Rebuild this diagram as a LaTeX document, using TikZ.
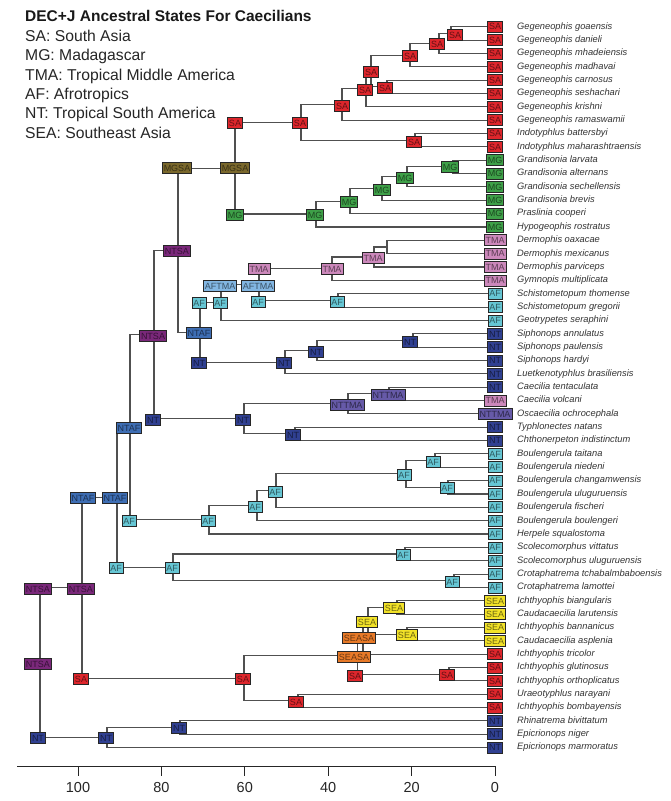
\documentclass[tikz,border=0pt]{standalone}
\usepackage{fontspec}
\setmainfont{Liberation Sans}
\definecolor{cSA}{RGB}{222,38,44}
\definecolor{cMG}{RGB}{62,160,72}
\definecolor{cTMA}{RGB}{204,136,187}
\definecolor{cAF}{RGB}{102,198,212}
\definecolor{cNT}{RGB}{48,64,145}
\definecolor{cSEA}{RGB}{242,226,40}
\definecolor{cMGSA}{RGB}{122,104,44}
\definecolor{cNTSA}{RGB}{122,40,122}
\definecolor{cNTAF}{RGB}{62,110,180}
\definecolor{cAFTMA}{RGB}{130,182,226}
\definecolor{cNTTMA}{RGB}{102,90,168}
\definecolor{cSEASA}{RGB}{232,122,40}
\definecolor{edgec}{RGB}{80,80,80}
\tikzset{
  edge/.style={draw=edgec, line width=1.1pt},
  box/.style={draw=black!85, line width=0.7pt, inner xsep=1.4pt, inner ysep=0pt,
    minimum height=11pt, text height=6.5pt, text depth=0pt, font=\fontsize{9}{9}\selectfont},
  state/.style={box, fill=c#1, text=c#1!45!black},
  tiplab/.style={anchor=west, inner sep=0pt, text height=6.7pt, text depth=2pt,
    font=\fontsize{9.3}{9.3}\selectfont\itshape, text=black!80},
  legend/.style={anchor=base west, inner sep=0pt, font=\fontsize{15.7}{15.7}\selectfont, text=black!85},
  axlab/.style={anchor=base, inner sep=0pt, font=\fontsize{14.5}{14.5}\selectfont, text=black!85},
  axisline/.style={draw=black!85, line width=1pt}
}
\newcommand\stbox[4]{\node[state=#2] (#1) at (#3,#4) {#2};}
\begin{document}
\begin{tikzpicture}[x=1pt,y=-1pt]
\fill[white] (0,0) rectangle (670,801);
\useasboundingbox (0,0) rectangle (670,801);
\def\tiplist{Gegeneophis goaensis/SA, Gegeneophis danieli/SA, Gegeneophis mhadeiensis/SA, Gegeneophis madhavai/SA, Gegeneophis carnosus/SA, Gegeneophis seshachari/SA, Gegeneophis krishni/SA, Gegeneophis ramaswamii/SA, Indotyphlus battersbyi/SA, Indotyphlus maharashtraensis/SA, Grandisonia larvata/MG, Grandisonia alternans/MG, Grandisonia sechellensis/MG, Grandisonia brevis/MG, Praslinia cooperi/MG, Hypogeophis rostratus/MG, Dermophis oaxacae/TMA, Dermophis mexicanus/TMA, Dermophis parviceps/TMA, Gymnopis multiplicata/TMA, Schistometopum thomense/AF, Schistometopum gregorii/AF, Geotrypetes seraphini/AF, Siphonops annulatus/NT, Siphonops paulensis/NT, Siphonops hardyi/NT, Luetkenotyphlus brasiliensis/NT, Caecilia tentaculata/NT, Caecilia volcani/TMA, Oscaecilia ochrocephala/NTTMA, Typhlonectes natans/NT, Chthonerpeton indistinctum/NT, Boulengerula taitana/AF, Boulengerula niedeni/AF, Boulengerula changamwensis/AF, Boulengerula uluguruensis/AF, Boulengerula fischeri/AF, Boulengerula boulengeri/AF, Herpele squalostoma/AF, Scolecomorphus vittatus/AF, Scolecomorphus uluguruensis/AF, Crotaphatrema tchabalmbaboensis/AF, Crotaphatrema lamottei/AF, Ichthyophis biangularis/SEA, Caudacaecilia larutensis/SEA, Ichthyophis bannanicus/SEA, Caudacaecilia asplenia/SEA, Ichthyophis tricolor/SA, Ichthyophis glutinosus/SA, Ichthyophis orthoplicatus/SA, Uraeotyphlus narayani/SA, Ichthyophis bombayensis/SA, Rhinatrema bivittatum/NT, Epicrionops niger/NT, Epicrionops marmoratus/NT}
% tip coordinates
\foreach \nm/\st [count=\i] in \tiplist {\coordinate (t\i) at (495,{26.7+13.35*(\i-1)});}
% internal node coordinates
\coordinate (nA) at (451,33.38);
\coordinate (nB) at (439,43.39);
\coordinate (nC) at (410,55.07);
\coordinate (nE) at (387,86.78);
\coordinate (nD) at (371,70.92);
\coordinate (nF) at (366,88.86);
\coordinate (nG) at (342,104.5);
\coordinate (nH) at (415,140.18);
\coordinate (nI) at (301,122.34);
\coordinate (nM1) at (453,166.88);
\coordinate (nM2) at (407,176.89);
\coordinate (nM3) at (382,188.57);
\coordinate (nM4) at (350,201.09);
\coordinate (nM5) at (316,214.02);
\coordinate (nMS) at (235,168.18);
\coordinate (nT1) at (387,246.98);
\coordinate (nT2) at (374,256.99);
\coordinate (nT3) at (332,268.67);
\coordinate (nS1) at (338,300.38);
\coordinate (nAT) at (259,284.52);
\coordinate (nAF1) at (221,302.46);
\coordinate (nSi1) at (413,340.43);
\coordinate (nSi2) at (317,350.44);
\coordinate (nSi3) at (285,362.12);
\coordinate (nNA) at (200,332.29);
\coordinate (nNS1) at (178,250.24);
\coordinate (nC1) at (389,393.83);
\coordinate (nC2) at (348,403.84);
\coordinate (nTy) at (295,433.88);
\coordinate (nN244) at (244,418.86);
\coordinate (nNS2) at (154,334.55);
\coordinate (nB1) at (435,460.58);
\coordinate (nB2) at (448,487.28);
\coordinate (nB3) at (406,473.93);
\coordinate (nB4) at (276,490.6);
\coordinate (nB5) at (257,505.6);
\coordinate (nB6) at (209,519.8);
\coordinate (nNA2) at (130,427.2);
\coordinate (nSc) at (405,554.03);
\coordinate (nCr) at (454,580.73);
\coordinate (nSC) at (173,567.38);
\coordinate (nNA3) at (117,497.3);
\coordinate (nSE1) at (397,607.43);
\coordinate (nSE2) at (407,634.13);
\coordinate (nSE3) at (368,620.78);
\coordinate (nSE4) at (363,637.46);
\coordinate (nIg) at (449,674.18);
\coordinate (nSE5) at (357.5,655.82);
\coordinate (nUr) at (298,700.88);
\coordinate (nSA2) at (244,678.35);
\coordinate (nNS3) at (82,587.8);
\coordinate (nRh) at (180,727.58);
\coordinate (nEp) at (107,737.59);
\coordinate (root) at (40,662.7);
% branches
\foreach \p/\c in {nA/t1, nA/t2, nB/nA, nB/t3, nC/nB, nC/t4, nE/t5, nE/t6, nD/nC, nD/nE, nF/nD, nF/t7, nG/nF, nG/t8, nH/t9, nH/t10, nI/nG, nI/nH,
  nM1/t11, nM1/t12, nM2/nM1, nM2/t13, nM3/nM2, nM3/t14, nM4/nM3, nM4/t15, nM5/nM4, nM5/t16, nMS/nI, nMS/nM5,
  nT1/t17, nT1/t18, nT2/nT1, nT2/t19, nT3/nT2, nT3/t20, nS1/t21, nS1/t22, nAT/nT3, nAT/nS1, nAF1/nAT, nAF1/t23,
  nSi1/t24, nSi1/t25, nSi2/nSi1, nSi2/t26, nSi3/nSi2, nSi3/t27, nNA/nAF1, nNA/nSi3, nNS1/nMS, nNS1/nNA,
  nC1/t28, nC1/t29, nC2/nC1, nC2/t30, nTy/t31, nTy/t32, nN244/nC2, nN244/nTy, nNS2/nNS1, nNS2/nN244,
  nB1/t33, nB1/t34, nB2/t35, nB2/t36, nB3/nB1, nB3/nB2, nB4/nB3, nB4/t37, nB5/nB4, nB5/t38, nB6/nB5, nB6/t39,
  nNA2/nNS2, nNA2/nB6, nSc/t40, nSc/t41, nCr/t42, nCr/t43, nSC/nSc, nSC/nCr, nNA3/nNA2, nNA3/nSC,
  nSE1/t44, nSE1/t45, nSE2/t46, nSE2/t47, nSE3/nSE1, nSE3/nSE2, nSE4/nSE3, nSE4/t48, nIg/t49, nIg/t50,
  nSE5/nSE4, nSE5/nIg, nUr/t51, nUr/t52, nSA2/nSE5, nSA2/nUr, nNS3/nNA3, nNS3/nSA2,
  nRh/t53, nRh/t54, nEp/nRh, nEp/t55, root/nNS3, root/nEp}
  {\draw[edge] (\p) |- (\c);}
% tip boxes and labels
\foreach \nm/\st [count=\i] in \tiplist {
  \node[state=\st] (bt\i) at (t\i) {\st};
  \node[tiplab] (lt\i) at ([xshift=22pt]t\i) {\nm};
}
% node state boxes and corner boxes
\stbox{bA}{SA}{455}{35}
\stbox{bB}{SA}{437}{44}
\stbox{bC}{SA}{410}{56}
\stbox{bD}{SA}{371}{72}
\stbox{bF}{SA}{365}{90}
\stbox{bE}{SA}{385}{88}
\stbox{bG}{SA}{342}{106}
\stbox{bH}{SA}{414}{142}
\stbox{bI}{SA}{300}{123}
\stbox{bM1}{MG}{450}{167}
\stbox{bM2}{MG}{405}{178}
\stbox{bM3}{MG}{382}{190}
\stbox{bM4}{MG}{349}{202}
\stbox{bM5}{MG}{315}{215}
\stbox{bMS}{MGSA}{235}{168}
\stbox{kMS1}{SA}{235}{123}
\stbox{kMS2}{MG}{235}{215}
\stbox{bT2}{TMA}{373}{258}
\stbox{bT3}{TMA}{332}{269}
\stbox{bS1}{AF}{337}{302}
\stbox{bAT}{AFTMA}{258}{286}
\stbox{kAT1}{TMA}{259}{269}
\stbox{kAT2}{AF}{258}{302}
\stbox{bAF1}{AF}{220}{303}
\stbox{kAF1}{AFTMA}{220}{286}
\stbox{bSi1}{NT}{410}{342}
\stbox{bSi2}{NT}{316}{352}
\stbox{bSi3}{NT}{284}{363}
\stbox{bNA}{NTAF}{199}{333}
\stbox{kNA1}{AF}{199}{303}
\stbox{kNA2}{NT}{199}{363}
\stbox{bNS1}{NTSA}{177}{251}
\stbox{kNS1}{MGSA}{177}{168}
\stbox{bC1}{NTTMA}{388}{395}
\stbox{bC2}{NTTMA}{347}{405}
\stbox{bTy}{NT}{293}{435}
\stbox{bN244}{NT}{243}{420}
\stbox{bNS2}{NTSA}{153}{336}
\stbox{kNS2}{NT}{153}{420}
\stbox{bB1}{AF}{433}{462}
\stbox{bB2}{AF}{447}{488}
\stbox{bB3}{AF}{404}{475}
\stbox{bB4}{AF}{275}{492}
\stbox{bB5}{AF}{255}{507}
\stbox{bB6}{AF}{208}{521}
\stbox{bNA2}{NTAF}{129}{428}
\stbox{kNA2b}{AF}{129}{521}
\stbox{bSc}{AF}{403}{555}
\stbox{bCr}{AF}{452}{582}
\stbox{bSC}{AF}{172}{568}
\stbox{bNA3}{NTAF}{115}{498}
\stbox{kNA3}{AF}{116}{568}
\stbox{bSE1}{SEA}{394}{608}
\stbox{bSE2}{SEA}{407}{635}
\stbox{bSE3}{SEA}{367}{622}
\stbox{bSE4}{SEASA}{359}{638}
\stbox{bSE5}{SEASA}{354}{657}
\stbox{kSE5}{SA}{355}{676}
\stbox{bIg}{SA}{447}{675}
\stbox{bUr}{SA}{296}{702}
\stbox{bSA2}{SA}{243}{679}
\stbox{bNS3}{NTSA}{81}{589}
\stbox{kNS3a}{NTAF}{83}{498}
\stbox{kNS3b}{SA}{81}{679}
\stbox{bRh}{NT}{179}{728}
\stbox{bEp}{NT}{106}{738}
\stbox{bR}{NTSA}{38}{664}
\stbox{kR1}{NTSA}{38}{589}
\stbox{kR2}{NT}{38}{738}
% title and legend
\node[legend, font=\fontsize{15.5}{15.5}\selectfont\bfseries, text=black!90] (title) at (25,21.7) {DEC+J Ancestral States For Caecilians};
\node[legend] (lg1) at (25,41.5) {SA: South Asia};
\node[legend] (lg2) at (25,60.8) {MG: Madagascar};
\node[legend] (lg3) at (25,80.1) {TMA: Tropical Middle America};
\node[legend] (lg4) at (25,99.4) {AF: Afrotropics};
\node[legend] (lg5) at (25,118.7) {NT: Tropical South America};
\node[legend] (lg6) at (25,138.0) {SEA: Southeast Asia};
% time axis
\coordinate (axL) at (17,766);
\coordinate (axR) at (495,766);
\draw[axisline] (axL) -- (axR);
\foreach \t in {0,20,...,100} {
  \coordinate (tk\t) at ({495-4.17*\t},766);
  \draw[axisline] (tk\t) -- ++(0,10);
  \node[axlab] (al\t) at ({495-4.17*\t},792) {\t};
}
\end{tikzpicture}
\end{document}
